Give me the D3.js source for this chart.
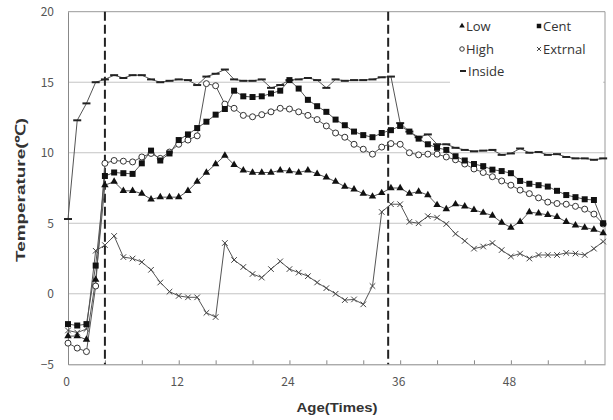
<!DOCTYPE html>
<html><head><meta charset="utf-8">
<script src="https://cdn.jsdelivr.net/npm/d3@7"></script>
<style>body{margin:0;background:#fff}svg{display:block}</style>
</head><body>
<svg id="c" width="613" height="420"></svg>
<script>
const ages = [0,1,2,3,4,5,6,7,8,9,10,11,12,13,14,15,16,17,18,19,20,21,22,23,24,25,26,27,28,29,30,31,32,33,34,35,36,37,38,39,40,41,42,43,44,45,46,47,48,49,50,51,52,53,54,55,56,57,58];
const lowVals = [-3.0,-3.0,-3.25,1.0,7.7,7.95,7.3,7.3,7.1,6.7,6.85,6.85,6.85,7.3,7.95,8.6,9.2,9.8,9.15,8.75,8.6,8.6,8.6,8.75,8.7,8.6,8.75,8.5,8.25,7.95,7.6,7.4,7.1,6.9,7.15,7.5,7.5,7.1,7.25,7.0,6.3,6.0,6.35,6.2,5.95,5.75,5.55,5.05,4.7,5.1,5.8,5.7,5.6,5.45,5.1,4.85,4.7,4.55,4.3];
const centVals = [-2.15,-2.25,-2.15,2.0,8.35,8.6,8.55,8.5,9.25,10.15,9.45,9.95,10.9,11.3,11.75,12.2,12.7,13.1,14.4,14.0,13.95,14.0,14.2,14.4,15.15,14.55,13.75,13.3,12.9,12.35,11.95,11.5,11.25,11.1,11.4,11.6,11.9,11.5,11.0,10.6,10.35,10.2,9.75,9.45,9.2,9.05,8.8,8.7,8.55,8.0,7.8,7.7,7.6,7.3,7.0,6.85,6.7,6.65,5.0];
const highVals = [-3.5,-3.85,-4.1,0.55,9.25,9.45,9.4,9.35,9.7,9.95,9.6,10.05,10.6,10.9,11.2,14.9,14.75,13.45,13.15,12.65,12.55,12.7,12.9,13.15,13.1,12.9,12.65,12.35,11.9,11.4,11.1,10.6,10.25,9.9,10.4,10.65,10.6,10.0,9.85,9.9,9.9,9.7,9.5,9.2,8.85,8.6,8.3,8.0,7.7,7.35,7.1,6.8,6.5,6.4,6.35,6.2,6.0,5.65,4.95];
const extVals = [-2.6,-2.75,-2.5,3.05,3.45,4.1,2.6,2.5,2.25,1.7,0.8,0.15,-0.15,-0.25,-0.25,-1.35,-1.65,3.6,2.4,1.9,1.4,1.15,1.75,2.3,1.75,1.5,1.25,0.8,0.4,0.0,-0.45,-0.4,-0.75,0.55,5.8,6.35,6.35,5.1,5.0,5.5,5.4,4.95,4.25,3.75,3.2,3.35,3.6,3.1,2.65,2.85,2.5,2.75,2.75,2.75,2.9,2.85,2.75,3.2,3.7];
const insideVals = [5.3,12.3,13.5,15.0,15.2,15.5,15.3,15.5,15.5,15.2,15.0,15.1,15.2,15.15,14.8,15.4,15.6,15.9,15.2,15.1,15.1,15.2,14.6,14.8,15.15,15.2,15.3,15.15,14.6,15.2,15.1,15.15,15.15,15.2,15.35,15.4,12.1,11.5,11.1,11.3,10.6,10.6,10.35,10.2,10.1,10.15,10.2,9.85,9.95,10.3,10.0,10.05,9.85,9.9,9.7,9.6,9.6,9.5,9.6];
const seriesNames = ["Low","Cent","High","Extrnal","Inside"];
const xTickValues = [0,4,8,12,16,20,24,28,32,36,40,44,48,52,56];
const xLabelValues = [0,12,24,36,48];
const yTickValues = [-5,0,5,10,15,20];
const gridValues = [0,5,10,15];
const markerAges = [4,34.7];
const xTitle = "Age(Times)";
const yTitle = "Temperature(\u2103)";

const series = [
  {name:"Low", vals:lowVals, type:"tri"},
  {name:"Cent", vals:centVals, type:"sq"},
  {name:"High", vals:highVals, type:"circ"},
  {name:"Extrnal", vals:extVals, type:"x"},
  {name:"Inside", vals:insideVals, type:"dash"}
];

const svg = d3.select("#c");
const L=68, R=605, T=11.7, B=364.3;
const x = d3.scaleLinear().domain([0,58.2]).range([L,R]);
const y = d3.scaleLinear().domain([-5,20]).range([B,T]);

// grid
svg.append("g").selectAll("line").data(gridValues).join("line")
  .attr("x1",L).attr("x2",R).attr("y1",d=>y(d)).attr("y2",d=>y(d))
  .attr("stroke","#c4c4c4").attr("stroke-width",1);

// border top/right
svg.append("line").attr("x1",L).attr("x2",R).attr("y1",T).attr("y2",T).attr("stroke","#999");
svg.append("line").attr("x1",R).attr("x2",R).attr("y1",T).attr("y2",B).attr("stroke","#999");

// x axis
const xAxisTicks = d3.axisBottom(x).tickValues(xTickValues).tickSizeInner(-4).tickSizeOuter(0).tickFormat("");
const gx = svg.append("g").attr("transform",`translate(0,${B})`).call(xAxisTicks);
gx.select(".domain").attr("stroke","#888");
gx.selectAll(".tick line").attr("stroke","#888");
const xAxisLabels = d3.axisBottom(x).tickValues(xLabelValues).tickSize(0).tickPadding(13).tickFormat(d3.format("d"));
const gxl = svg.append("g").attr("transform",`translate(-2,${B})`).call(xAxisLabels);
gxl.select(".domain").remove();
gxl.selectAll("text").attr("font-family","'Noto Sans CJK KR','Open Sans',sans-serif").attr("font-size",12).attr("fill","#555");

// y axis
const yAxis = d3.axisLeft(y).tickValues(yTickValues).tickSize(0).tickPadding(14).tickFormat(d3.format("d"));
const gy = svg.append("g").attr("transform",`translate(${L},0)`).call(yAxis);
gy.select(".domain").attr("stroke","#888");
gy.selectAll("text").attr("font-family","'Noto Sans CJK KR','Open Sans',sans-serif").attr("font-size",12).attr("fill","#555");

// dashed markers
svg.append("g").selectAll("line").data(markerAges).join("line")
  .attr("x1",d=>x(d)).attr("x2",d=>x(d)).attr("y1",T).attr("y2",B)
  .attr("stroke","#222").attr("stroke-width",2).attr("stroke-dasharray","9,4");

// legend background
svg.append("rect").attr("x",450).attr("y",14).attr("width",153).attr("height",76).attr("fill","#fff");

const line = d3.line().x((d,i)=>x(ages[i])).y(d=>y(d));

function drawMarker(g, type, scale){
  const s = scale||1;
  if(type==="tri") g.append("path").attr("d",d3.symbol(d3.symbolTriangle, 24*s*s)()).attr("fill","#111");
  else if(type==="sq") g.append("path").attr("d",d3.symbol(d3.symbolSquare, 36*s*s)()).attr("fill","#111");
  else if(type==="circ") g.append("circle").attr("r",3*s).attr("fill","#fff").attr("stroke","#333").attr("stroke-width",1);
  else if(type==="x") g.append("path").attr("d",d3.symbol(d3.symbolTimes, 22*s*s)()).attr("fill","none").attr("stroke","#444").attr("stroke-width",1);
  else if(type==="dash") g.append("line").attr("x1",-4*s).attr("x2",4*s).attr("y1",0).attr("y2",0).attr("stroke","#222").attr("stroke-width",2);
}

// draw series (lines first)
const order = ["Inside","Extrnal","Low","High","Cent"];
order.forEach(nm=>{
  const s = series.find(d=>d.name===nm);
  svg.append("path").datum(s.vals).attr("d",line).attr("fill","none").attr("stroke","#555").attr("stroke-width",1);
});
order.forEach(nm=>{
  const s = series.find(d=>d.name===nm);
  const g = svg.append("g");
  s.vals.forEach((v,i)=>{
    const m = g.append("g").attr("transform",`translate(${x(ages[i])},${y(v)})`);
    drawMarker(m, s.type, 1);
  });
});

// legend
const legPos = {Low:[462,26],Cent:[539,26],High:[462,49],Extrnal:[539,49],Inside:[463,71]};
seriesNames.forEach(nm=>{
  const s = series.find(d=>d.name===nm);
  const p = legPos[nm];
  const g = svg.append("g").attr("transform",`translate(${p[0]},${p[1]})`);
  drawMarker(g, s.type, 0.75);
  g.append("text").attr("x", nm==="Inside"?5:4).attr("y",0).attr("dy","0.35em")
    .attr("font-family","'Open Sans',sans-serif").attr("font-size",13).attr("fill","#333").text(nm);
});

// titles
svg.append("text").attr("x",337).attr("y",407).attr("dy","0.35em").attr("text-anchor","middle")
  .attr("font-family","'Liberation Sans',Arial,sans-serif").attr("font-weight","bold").attr("font-size",13.5)
  .attr("fill","#333").attr("textLength",81).attr("lengthAdjust","spacingAndGlyphs").text(xTitle);
svg.append("text").attr("transform","translate(20,190) rotate(-90)").attr("dy","0.35em").attr("text-anchor","middle")
  .attr("font-family","'Liberation Sans',Arial,sans-serif").attr("font-weight","bold").attr("font-size",13.5)
  .attr("fill","#333").attr("textLength",144).attr("lengthAdjust","spacingAndGlyphs").text(yTitle);
</script>
</body></html>
